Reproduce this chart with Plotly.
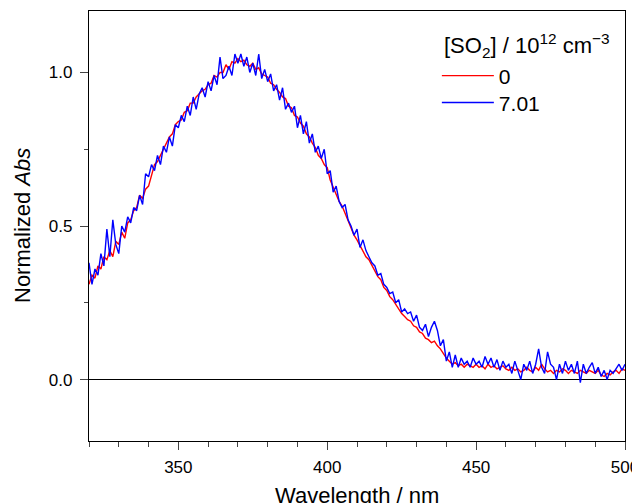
import plotly.graph_objects as go

wavelength = list(range(320, 501))

abs_0 = [
    0.31, 0.34, 0.33, 0.37, 0.36, 0.40, 0.39, 0.42, 0.40, 0.45,
    0.44, 0.48, 0.46, 0.51, 0.52, 0.55, 0.56, 0.60, 0.59, 0.62,
    0.63, 0.67, 0.70, 0.71, 0.73, 0.745, 0.77, 0.79, 0.80, 0.83,
    0.84, 0.845, 0.87, 0.875, 0.90, 0.90, 0.92, 0.93, 0.94, 0.945,
    0.96, 0.965, 0.99, 0.985, 1.0, 1.0, 1.025, 1.01, 1.035, 1.03,
    1.045, 1.035, 1.04, 1.025, 1.02, 1.03, 1.01, 1.015, 0.995, 0.99,
    0.985, 0.965, 0.96, 0.945, 0.935, 0.92, 0.915, 0.89, 0.885, 0.86,
    0.855, 0.835, 0.825, 0.80, 0.79, 0.77, 0.755, 0.73, 0.72, 0.70,
    0.69, 0.65, 0.625, 0.60, 0.58, 0.565, 0.54, 0.515, 0.495, 0.47,
    0.455, 0.435, 0.42, 0.40, 0.39, 0.37, 0.355, 0.335, 0.325, 0.30,
    0.29, 0.27, 0.26, 0.245, 0.23, 0.215, 0.205, 0.195, 0.19, 0.175,
    0.17, 0.155, 0.15, 0.135, 0.13, 0.12, 0.125, 0.11, 0.10, 0.085,
    0.07, 0.06, 0.05, 0.055, 0.045, 0.05, 0.04, 0.05, 0.045, 0.04,
    0.05, 0.04, 0.045, 0.035, 0.05, 0.04, 0.045, 0.035, 0.04, 0.045,
    0.035, 0.03, 0.04, 0.03, 0.035, 0.025, 0.03, 0.04, 0.03, 0.025,
    0.04, 0.03, 0.05, 0.035, 0.025, 0.03, 0.02, 0.03, 0.025, 0.035,
    0.03, 0.02, 0.03, 0.025, 0.02, 0.03, 0.025, 0.02, 0.03, 0.025,
    0.02, 0.03, 0.015, 0.01, 0.02, 0.015, 0.025, 0.03, 0.02, 0.035,
    0.03,
]

abs_701 = [
    0.38, 0.31, 0.36, 0.34, 0.41, 0.37, 0.49, 0.40, 0.52, 0.44,
    0.41, 0.50, 0.48, 0.53, 0.51, 0.56, 0.55, 0.60, 0.57, 0.67,
    0.66, 0.70, 0.68, 0.73, 0.70, 0.76, 0.74, 0.79, 0.76, 0.83,
    0.82, 0.86, 0.84, 0.89, 0.86, 0.92, 0.88, 0.93, 0.95, 0.92,
    0.97, 0.94, 0.99, 0.96, 1.05, 0.98, 0.99, 1.02, 0.99, 1.06,
    1.03, 1.06, 1.02, 1.05, 1.00, 1.03, 0.99, 1.06, 0.98, 1.01,
    0.97, 0.995, 0.94, 0.96, 0.91, 0.95, 0.88, 0.90, 0.87, 0.89,
    0.82, 0.86, 0.80, 0.84, 0.77, 0.80, 0.74, 0.76, 0.72, 0.75,
    0.67, 0.68, 0.61, 0.63, 0.58, 0.56, 0.57, 0.52, 0.50, 0.47,
    0.49, 0.43, 0.455, 0.42, 0.40, 0.38, 0.37, 0.34, 0.345, 0.31,
    0.30, 0.28, 0.285, 0.25, 0.26, 0.22, 0.23, 0.215, 0.22, 0.19,
    0.21, 0.17, 0.16, 0.18, 0.14, 0.17, 0.19, 0.16, 0.11, 0.13,
    0.06, 0.09, 0.04, 0.08, 0.04, 0.07, 0.05, 0.06, 0.04, 0.07,
    0.05, 0.06, 0.04, 0.075, 0.05, 0.07, 0.04, 0.065, 0.03, 0.06,
    0.04, 0.05, 0.02, 0.06, 0.03, 0.0, 0.05, 0.03, 0.06, 0.02,
    0.05, 0.10, 0.04, 0.02, 0.09, 0.05, 0.04, 0.0, 0.05, 0.02,
    0.06, 0.03, 0.05, 0.02, 0.06, -0.01, 0.05, 0.02, 0.04, 0.055,
    0.02, 0.04, 0.01, 0.03, 0.0, 0.03, 0.02, 0.035, 0.05, 0.03,
    0.05,
]

series_names = ["0", "7.01"]
series_colors = ["#ff0000", "#0000ff"]
x_ticks = [350, 400, 450, 500]
y_ticks = [0.0, 0.5, 1.0]

FONT = "Liberation Sans, Arial, sans-serif"

fig = go.Figure()
for i, (name, vals, col) in enumerate(zip(series_names, [abs_0, abs_701], series_colors)):
    fig.add_trace(go.Scatter(x=wavelength, y=vals, mode="lines", name=name,
                             legend="legend" if i == 0 else "legend2",
                             line=dict(color=col, width=1.4)))

legend_common = dict(xanchor="left", yanchor="top", bgcolor="rgba(0,0,0,0)",
                     font=dict(size=21, family=FONT), itemwidth=52)

# page body adds an 8px offset, so the figure is sized 632x495
fig.update_layout(
    width=632, height=495,
    margin=dict(l=81, r=15, t=3, b=62),
    paper_bgcolor="white", plot_bgcolor="white",
    font=dict(family=FONT, color="black", size=17),
    showlegend=True,
    legend=dict(x=0.649, y=0.8965, **legend_common),
    legend2=dict(x=0.649, y=0.834, **legend_common),
    annotations=[
        dict(text="[SO<sub>2</sub>] / 10<sup>12</sup> cm<sup>\u22123</sup>",
             xref="paper", yref="paper", x=0.659, y=0.919,
             xanchor="left", yanchor="middle", showarrow=False,
             font=dict(size=22, family=FONT)),
        dict(text="Wavelength / nm", xref="paper", yref="paper",
             x=0.5, y=-0.126, xanchor="center", yanchor="middle",
             showarrow=False, font=dict(size=22, family=FONT)),
        dict(text="Normalized <i>Abs</i>", xref="paper", yref="paper",
             x=-0.125, y=0.5, xanchor="center", yanchor="middle",
             textangle=-90, showarrow=False, font=dict(size=22, family=FONT)),
    ],
)

fig.update_xaxes(
    range=[320, 500], tickvals=x_ticks, ticks="outside", ticklen=8, tickwidth=1.2,
    minor=dict(dtick=10, ticks="outside", ticklen=5, tickwidth=1.2),
    showline=True, linecolor="black", linewidth=1.3, mirror=True,
    showgrid=False, zeroline=False, automargin=False,
    tickfont=dict(size=17), ticklabelstandoff=2,
)
fig.update_yaxes(
    range=[-0.2, 1.2], tickvals=y_ticks, tickformat=".1f", ticks="outside",
    ticklen=8, tickwidth=1.2,
    minor=dict(tick0=0, dtick=0.25, ticks="outside", ticklen=4, tickwidth=1.2),
    showline=True, linecolor="black", linewidth=1.3, mirror=True,
    showgrid=False, zeroline=True, zerolinecolor="black", zerolinewidth=1.3,
    automargin=False, ticklabelstandoff=4,
    tickfont=dict(size=17),
)

fig.write_html("out.html")
